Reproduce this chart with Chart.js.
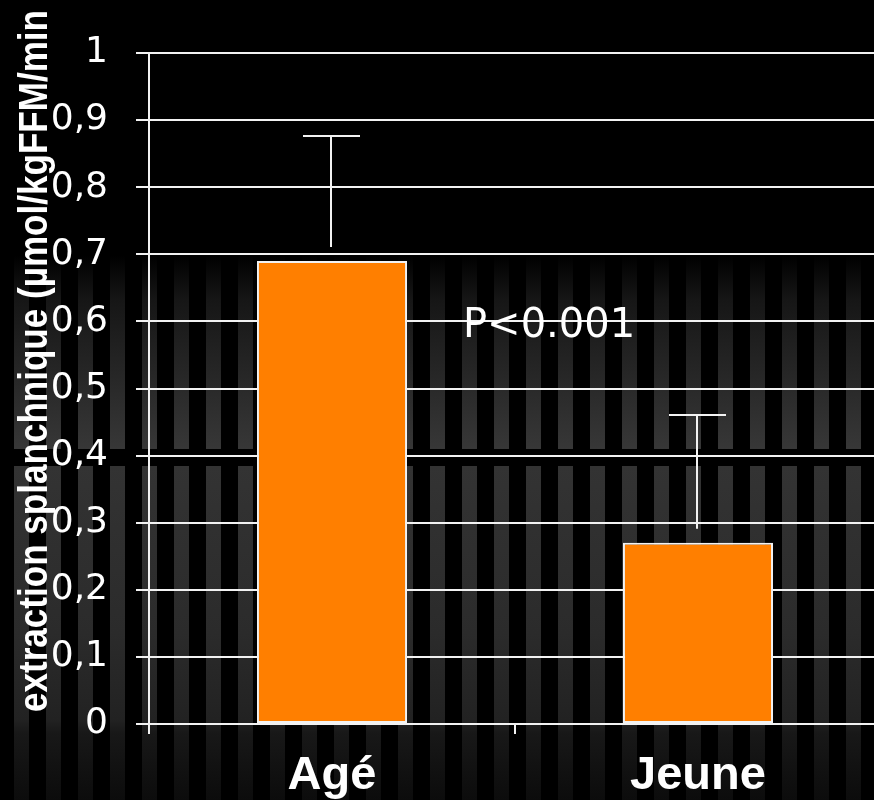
<!DOCTYPE html>
<html>
<head>
<meta charset="utf-8">
<script src="https://cdn.jsdelivr.net/npm/chart.js@4.4.0/dist/chart.umd.min.js"></script>
<style>
  html, body { margin: 0; padding: 0; background: #000; overflow: hidden; }
  #wrap { width: 900px; height: 800px; }
</style>
</head>
<body>
<div id="wrap"><canvas id="chart" width="900" height="800"></canvas></div>
<script>
// values
const categories = ['Agé', 'Jeune'];
const means = [0.69, 0.27];
const errors = [0.186, 0.19];
const yTickLabels = ['0', '0,1', '0,2', '0,3', '0,4', '0,5', '0,6', '0,7', '0,8', '0,9', '1'];
const yTitle = 'extraction splanchnique (µmol/kgFFM/min';
const pLabel = 'P<0.001';
const pLabelValue = 0.577;

const WHITE = '#f2f2f2';
const ORANGE = '#FF7F00';

// striped grey backdrop of the original slide
const backdrop = {
  id: 'backdrop',
  beforeDraw(chart) {
    const ctx = chart.ctx;
    const w = chart.width, h = chart.height;
    ctx.save();
    ctx.fillStyle = '#000';
    ctx.fillRect(0, 0, w, h);
    const bands = [
      { y0: 255, y1: 449, stops: [[0, '#000'], [0.23, '#161616'], [1, '#373737']] },
      { y0: 466, y1: h, stops: [[0, '#333'], [0.5, '#2b2b2b'], [0.76, '#222'], [0.8, '#181818'], [1, '#0c0c0c']] }
    ];
    bands.forEach(b => {
      const g = ctx.createLinearGradient(0, b.y0, 0, b.y1);
      b.stops.forEach(s => g.addColorStop(s[0], s[1]));
      ctx.fillStyle = g;
      for (let x = 14; x < w; x += 32) ctx.fillRect(x, b.y0, 15, b.y1 - b.y0);
    });
    ctx.restore();
  }
};

// upper error bars only, stopping short of the bar top like the original
const errorBars = {
  id: 'errorBars',
  afterDatasetsDraw(chart) {
    const ctx = chart.ctx;
    const meta = chart.getDatasetMeta(0);
    const y = chart.scales.y;
    ctx.save();
    ctx.strokeStyle = WHITE;
    ctx.lineWidth = 2;
    meta.data.forEach((bar, i) => {
      const top = Math.round(y.getPixelForValue(means[i] + errors[i]));
      const x = Math.round(bar.x) - 1;
      ctx.beginPath();
      ctx.moveTo(x, top);
      ctx.lineTo(x, bar.y - 14);
      ctx.moveTo(x - 28, top);
      ctx.lineTo(x + 29, top);
      ctx.stroke();
    });
    ctx.restore();
  }
};

const overlayText = {
  id: 'overlayText',
  afterDraw(chart) {
    const ctx = chart.ctx;
    const xs = chart.scales.x, ys = chart.scales.y;

    // y title, squeezed to the length it has on the slide
    ctx.save();
    ctx.font = 'bold 40px "Liberation Sans", Arial, sans-serif';
    const natural = ctx.measureText(yTitle).width;
    ctx.translate(47, chart.chartArea.bottom - 12);
    ctx.rotate(-Math.PI / 2);
    ctx.scale(702 / natural, 1);
    ctx.fillStyle = '#fff';
    ctx.textAlign = 'left';
    ctx.textBaseline = 'alphabetic';
    ctx.fillText(yTitle, 0, 0);
    ctx.restore();

    // significance label
    ctx.save();
    ctx.font = '40px "DejaVu Sans", sans-serif';
    ctx.fillStyle = '#fff';
    ctx.textAlign = 'left';
    ctx.textBaseline = 'alphabetic';
    const mid = (xs.getPixelForValue(0) + xs.getPixelForValue(1)) / 2;
    ctx.fillText(pLabel, mid - 52, ys.getPixelForValue(pLabelValue));
    ctx.restore();
  }
};

const ctx = document.getElementById('chart').getContext('2d');
new Chart(ctx, {
  type: 'bar',
  data: {
    labels: categories,
    datasets: [{
      data: means,
      backgroundColor: ORANGE,
      borderColor: WHITE,
      borderWidth: 2,
      borderSkipped: false,
      barPercentage: 0.41,
      categoryPercentage: 1,
    }],
  },
  options: {
    responsive: false,
    animation: false,
    layout: { padding: { top: 53, right: 19, left: 0, bottom: 0 } },
    plugins: {
      legend: { display: false },
      tooltip: { enabled: false },
    },
    scales: {
      x: {
        grid: { offset: true, drawOnChartArea: false, color: WHITE, lineWidth: 2, tickLength: 10 },
        border: { display: false },
        ticks: {
          color: '#fff',
          padding: 14,
          font: { family: '"Liberation Sans", Arial, sans-serif', weight: 'bold', size: 47 },
        },
        afterFit(scale) { scale.height = 76; },
      },
      y: {
        min: 0,
        max: 1,
        ticks: {
          stepSize: 0.1,
          color: '#fff',
          padding: 28,
          font: { family: '"DejaVu Sans", sans-serif', size: 36 },
          callback: (v) => yTickLabels[Math.round(v * 10)],
        },
        grid: { color: WHITE, lineWidth: 2, tickLength: 13 },
        border: { display: true, color: WHITE, width: 2 },
        afterFit(scale) { scale.width = 149; },
      },
    },
  },
  plugins: [backdrop, errorBars, overlayText],
});
</script>
</body>
</html>
